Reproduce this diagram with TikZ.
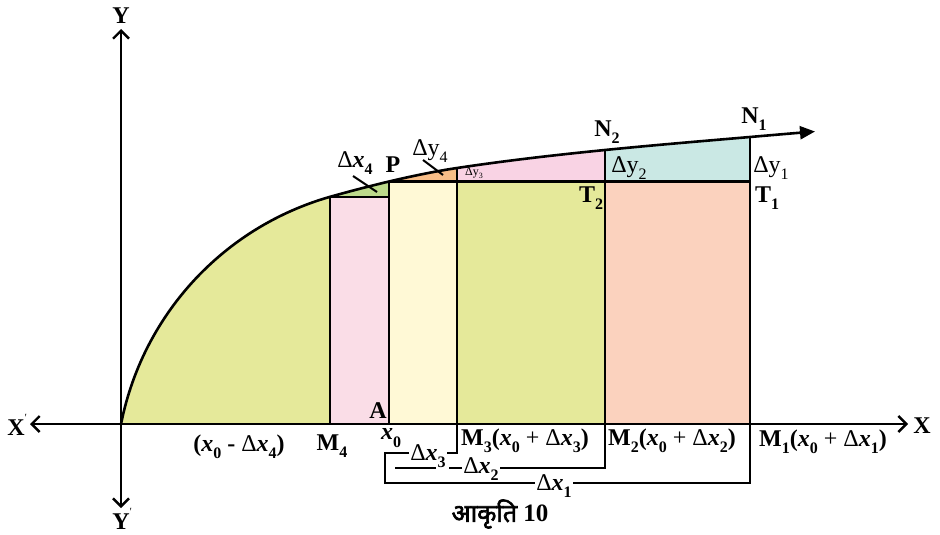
\documentclass[tikz,border=0pt]{standalone}
\usepackage{fontspec}
\setmainfont{Liberation Serif}
\newfontfamily\devfont[Script=Devanagari, FakeBold=2.5]{Noto Sans}
\usetikzlibrary{arrows.meta,calc}
\definecolor{cYG}{HTML}{E5E99A}
\definecolor{cPK}{HTML}{FADDE7}
\definecolor{cLG}{HTML}{BDDA8B}
\definecolor{cLY}{HTML}{FFF9D6}
\definecolor{cOR}{HTML}{F8BD87}
\definecolor{cPS}{HTML}{F9D3E4}
\definecolor{cTL}{HTML}{CAE8E4}
\definecolor{cPE}{HTML}{FBD2BE}
\newcommand{\lo}[1]{\raisebox{-0.3em}{\fontsize{16}{16}\selectfont #1}}
\newcommand{\bx}{\textbf{\textit{x}}}
\newcommand{\prm}{\rlap{\raisebox{0.6em}{\fontsize{11}{11}\selectfont\mdseries ′}}}
\begin{document}
\begin{tikzpicture}[x=1pt,y=-1pt, line width=2.4pt,
  lab/.style={font=\fontsize{24}{26}\selectfont\bfseries, inner sep=1pt},
  reg/.style={font=\fontsize{24}{26}\selectfont, inner sep=1pt},
  axisline/.style={line width=2.4pt, {Straight Barb[length=8pt,width=16pt]}-{Straight Barb[length=8pt,width=16pt]}},
  pointer/.style={line width=2pt}]
\useasboundingbox (0,0) rectangle (940,535);
% key points
\coordinate (O) at (121,424);
\coordinate (M4) at (330,424);
\coordinate (A) at (389,424);
\coordinate (M3) at (457,424);
\coordinate (M2) at (605,424);
\coordinate (M1) at (750,424);
\coordinate (C4) at (330,196.8);
\coordinate (Q4) at (389,196.8);
\coordinate (P) at (389,181.5);
\coordinate (C3) at (457,168);
\coordinate (H3) at (457,181.5);
\coordinate (N2) at (605,150);
\coordinate (N1) at (750,137);
\coordinate (T2) at (605,181.5);
\coordinate (T1) at (750,181.5);
\coordinate (Xl) at (30,424);
\coordinate (Xr) at (908,424);
\coordinate (Yt) at (121,29);
\coordinate (Yb) at (121,508);
% fills under the curve
\begin{scope}
\clip plot[domain=168.9:105.9, samples=60, variable=\t] ({411+295.5*cos(\t)},{481-295.5*sin(\t)})
  .. controls (370,185.6) and (417,174) .. (C3)
  .. controls (507,160.5) and (555,155) .. (N2)
  .. controls (655,145) and (700,141.3) .. (N1)
  .. controls (772,135.1) and (793,133.3) .. (815,131.5) -- (815,424) -- cycle;
\fill[cYG] (121,100) rectangle (M4);
\fill[cLG] (330,100) rectangle (Q4);
\fill[cOR] (389,100) rectangle (H3);
\fill[cPS] (457,100) rectangle (T2);
\fill[cTL] (605,100) rectangle (T1);
\end{scope}
\fill[cPK] (C4) rectangle (A);
\fill[cLY] (P) rectangle (M3);
\fill[cYG] (H3) rectangle (M2);
\fill[cPE] (T2) rectangle (M1);
% curve
\draw[line width=2.6pt, -{Triangle[length=15pt,width=13pt]}]
  plot[domain=168.9:105.9, samples=60, variable=\t] ({411+295.5*cos(\t)},{481-295.5*sin(\t)})
  .. controls (370,185.6) and (417,174) .. (C3)
  .. controls (507,160.5) and (555,155) .. (N2)
  .. controls (655,145) and (700,141.3) .. (N1)
  .. controls (772,135.1) and (793,133.3) .. (815,131.5);
% ordinates and tops
\draw (C4) -- (M4);
\draw (C4) -- (Q4);
\draw (P) -- (A);
\draw (P) -- (T1);
\draw (C3) -- (M3);
\draw (N2) -- (M2);
\draw (N1) -- (M1);
% axes
\draw[axisline] (Xl) -- (Xr);
\draw[axisline] (Yb) -- (Yt);
% labels
\node[lab] (ylab) at (121,16) {Y};
\node[lab] (yplab) at (121,519) {Y\prm};
\node[lab] (xplab) at (16,425) {X\prm};
\node[lab] (xlab) at (922,426) {X};
\node[lab] (m4lab) at (332,446) {M\lo{4}};
\node[lab] (x4lab) at (239,447) {(\bx\lo{0} - \textmd{Δ}\bx\lo{4})};
\node[lab] (alab) at (378,411) {A};
\node[lab] (x0lab) at (391,438) {\bx\lo{0}};
\node[lab, anchor=west, inner sep=0pt] (m3lab) at (460,441) {M\lo{3}(\bx\lo{0} \textmd{+ Δ}\bx\lo{3})};
\node[lab, anchor=west, inner sep=0pt] (m2lab) at (607,441) {M\lo{2}(\bx\lo{0} \textmd{+ Δ}\bx\lo{2})};
\node[lab, anchor=west, inner sep=0pt] (m1lab) at (758,442) {M\lo{1}(\bx\lo{0} \textmd{+ Δ}\bx\lo{1})};
\node[reg] (dx4lab) at (355,163) {Δ\bx\lo{\textbf{4}}};
\node[lab] (plab) at (393,165) {P};
\node[reg] (dy4lab) at (430,151) {Δy\lo{4}};
\node[font=\fontsize{12}{13}\selectfont, inner sep=0pt] (dy3lab) at (474,173) {Δy\raisebox{-0.25em}{\fontsize{8}{8}\selectfont 3}};
\node[lab] (n2lab) at (607,132) {N\lo{2}};
\node[lab] (n1lab) at (754,119) {N\lo{1}};
\node[reg] (dy2lab) at (629,168) {Δy\lo{2}};
\node[reg] (dy1lab) at (771,168) {Δy\lo{1}};
\node[lab] (t2lab) at (591,198) {T\lo{2}};
\node[lab] (t1lab) at (767,198) {T\lo{1}};
% pointers
\draw[pointer] (353,176) -- (377,192);
\draw[pointer] (423,160) -- (443,175);
% brackets below the axis
\coordinate (b3R) at (457,453);
\coordinate (b3L) at (385,453);
\coordinate (b1L) at (385,483);
\coordinate (b1R) at (750,483);
\coordinate (b2L) at (395,468);
\coordinate (b2R) at (605,468);
\coordinate (g1) at (436,468);
\coordinate (g2) at (449,468);
\node[reg, inner sep=0pt] (d3) at (428,456) {Δ\bx\lo{\textbf{3}}};
\node[reg, inner sep=0pt] (d2) at (481,469) {Δ\bx\lo{\textbf{2}}};
\draw (M3) -- (b3R) -- (b3R -| d3.east);
\draw (b3L -| d3.west) -- (b3L) -- (b1L) -- (b1R) -- (M1);
\draw (M2) -- (b2R) -- (b2R -| d2.east);
\draw (b2R -| d2.west) -- (g2);
\draw (g1) -- (b2L);
\node[reg, fill=white] (d1) at (554,486) {Δ\bx\lo{\textbf{1}}};
% caption
\node[font=\fontsize{25}{27}\selectfont\bfseries, inner sep=1pt] (cap) at (500,514) {{\devfont आकृति} 10};
\end{tikzpicture}
\end{document}
